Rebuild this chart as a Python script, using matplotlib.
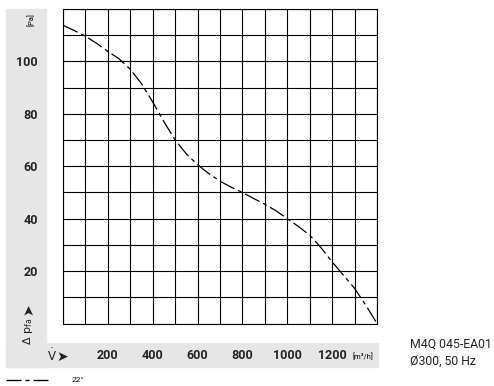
import matplotlib
matplotlib.use("Agg")
import matplotlib.pyplot as plt
from matplotlib.patches import Rectangle
from matplotlib.lines import Line2D

plt.rcParams['font.family'] = ['Roboto', 'DejaVu Sans']
plt.rcParams['mathtext.fontset'] = 'dejavusans'

# curve (flow m3/h, pressure Pa)
flow = [0, 50, 100, 150, 200, 250, 300, 350, 400, 450, 500, 550, 600, 650,
        700, 750, 800, 850, 900, 950, 1000, 1050, 1100, 1150, 1200, 1250,
        1300, 1350, 1400]
pressure = [113.8, 111.8, 109.6, 106.9, 103.8, 101.0, 97.0, 91.5, 84.5,
            77.0, 70.0, 64.7, 60.6, 57.2, 54.3, 52.0, 50.0, 47.7, 45.5,
            43.0, 40.0, 37.0, 33.7, 29.0, 23.5, 18.5, 13.4, 7.0, 0.0]

x_labeled = [200, 400, 600, 800, 1000, 1200]
y_labeled = [20, 40, 60, 80, 100]
x_grid = list(range(0, 1401, 100))
y_grid = list(range(0, 121, 10))

W, H = 494, 386
fig = plt.figure(figsize=(W / 100, H / 100), dpi=100)


def fx(px):
    return px / W


def fy(py):
    return 1 - py / H


grey = '#e6e6e6'
ink = '#222222'
# grey label bands
fig.patches.append(Rectangle((fx(6), fy(367)), fx(40), (367 - 9) / H,
                             transform=fig.transFigure, color=grey, zorder=-5))
fig.patches.append(Rectangle((fx(6), fy(367)), fx(372), 24 / H,
                             transform=fig.transFigure, color=grey, zorder=-5))

ax = fig.add_axes([fx(63), fy(323.5), fx(377 - 63), (323.5 - 9) / H])
ax.plot(flow, pressure, color='black', lw=0.9, dashes=(13, 3.2, 3.2, 3.2),
        zorder=3)
ax.set_xlim(0, 1400)
ax.set_ylim(0, 120)
ax.set_xticks(x_labeled, [str(v) for v in x_labeled])
ax.set_yticks(y_labeled, [str(v) for v in y_labeled])
ax.set_xticks(x_grid, minor=True)
ax.set_yticks(y_grid, minor=True)
ax.grid(True, which='both', color='black', lw=0.8)
ax.tick_params(which='both', length=0, labelsize=9)
ax.tick_params(axis='x', pad=18.5)
ax.tick_params(axis='y', pad=18)
for lab in ax.get_xticklabels() + ax.get_yticklabels():
    lab.set_fontweight('bold')
    lab.set_color(ink)
for s in ax.spines.values():
    s.set_linewidth(0.8)

# axis captions
fig.text(fx(30.5), fy(19.5), '[Pa]', rotation=90, ha='center', va='center',
         fontsize=5.5)
fig.text(fx(28), fy(345), r'$\Delta\ \mathrm{p}_{\mathrm{fa}}$', rotation=90,
         ha='center', va='bottom', fontsize=8, color=ink)
fig.text(fx(28.5), fy(309), '➤', rotation=90, ha='center', va='center',
         fontsize=10, family=['DejaVu Sans'], color=ink)
fig.text(fx(47), fy(356), r'$\dot{\mathrm{V}}$', ha='left', va='center',
         fontsize=8.5, color=ink)
fig.text(fx(62), fy(356.5), '➤', ha='center', va='center',
         fontsize=10, family=['DejaVu Sans'], color=ink)
fig.text(fx(363), fy(356), '[m³/h]', ha='center', va='center', fontsize=5.5)

fig.text(fx(410), fy(344.5), 'M4Q 045-EA01', ha='left', va='center',
         fontsize=8.8, color=ink)
fig.text(fx(410), fy(361), 'Ø300, 50 Hz', ha='left', va='center',
         fontsize=8.8, color=ink)

# line-style key
fig.add_artist(Line2D([fx(6), fx(48)], [fy(380), fy(380)], color='black',
                      lw=1.0, dashes=(10.8, 2.9, 2.9, 2.9),
                      transform=fig.transFigure))
fig.text(fx(72), fy(380), '22°', ha='left', va='center', fontsize=6)

fig.savefig('out.png', dpi=100)
